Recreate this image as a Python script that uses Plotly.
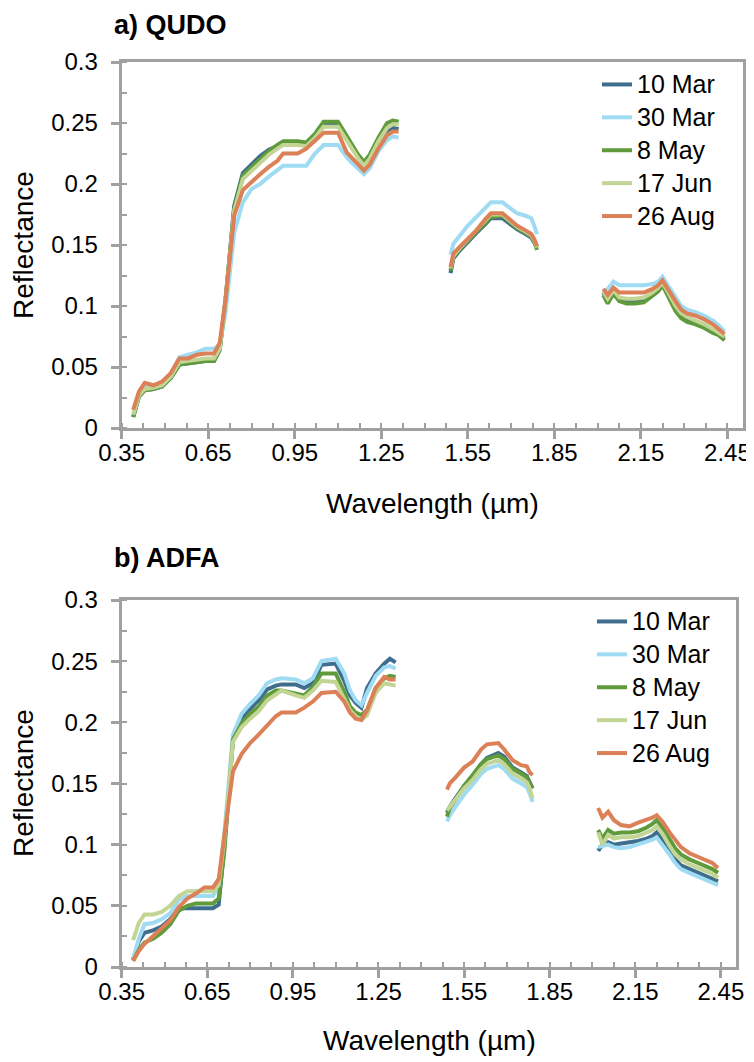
import plotly.graph_objects as go

# ---------------- wavelength grids (µm) ----------------
WL_VNIR = [0.39, 0.41, 0.43, 0.46, 0.49, 0.52, 0.55, 0.58, 0.61, 0.64, 0.67, 0.69, 0.71, 0.74, 0.77,
           0.80, 0.83, 0.86, 0.89, 0.91, 0.96, 0.99, 1.02, 1.05, 1.10, 1.13, 1.15, 1.17, 1.19, 1.21,
           1.24, 1.27, 1.29, 1.31]
WL_SWIR1 = [1.49, 1.50, 1.52, 1.55, 1.58, 1.61, 1.63, 1.67, 1.69, 1.72, 1.75, 1.77, 1.78, 1.79]
WL_SWIR2 = [2.02, 2.035, 2.055, 2.075, 2.10, 2.13, 2.16, 2.19, 2.21, 2.225, 2.245, 2.27, 2.29, 2.31,
            2.34, 2.37, 2.40, 2.42, 2.44]

DATES = ["10 Mar", "30 Mar", "8 May", "17 Jun", "26 Aug"]
COLORS = ["#3F6D8E", "#9FDBF2", "#5F9A3B", "#C3D594", "#DC8058"]

X_TICKS = [0.35, 0.65, 0.95, 1.25, 1.55, 1.85, 2.15, 2.45]
X_TICK_LABELS = ["0.35", "0.65", "0.95", "1.25", "1.55", "1.85", "2.15", "2.45"]
Y_TICKS = [0, 0.05, 0.1, 0.15, 0.2, 0.25, 0.3]
Y_TICK_LABELS = ["0", "0.05", "0.1", "0.15", "0.2", "0.25", "0.3"]

# ---------------- a) QUDO ----------------
QUDO_10MAR_VNIR = [0.009, 0.026, 0.031, 0.032, 0.034, 0.041, 0.052, 0.053, 0.054, 0.055, 0.055, 0.064, 0.105,
                   0.182, 0.209, 0.216, 0.223, 0.228, 0.231, 0.234, 0.234, 0.233, 0.240, 0.249, 0.249, 0.237,
                   0.229, 0.222, 0.216, 0.222, 0.236, 0.244, 0.246, 0.245]
QUDO_30MAR_VNIR = [0.014, 0.028, 0.035, 0.034, 0.037, 0.044, 0.058, 0.060, 0.062, 0.065, 0.065, 0.068, 0.095,
                   0.160, 0.185, 0.196, 0.200, 0.206, 0.211, 0.215, 0.215, 0.215, 0.225, 0.232, 0.232, 0.222,
                   0.217, 0.212, 0.208, 0.213, 0.227, 0.236, 0.239, 0.238]
QUDO_8MAY_VNIR = [0.009, 0.026, 0.031, 0.032, 0.034, 0.041, 0.052, 0.053, 0.054, 0.055, 0.055, 0.064, 0.105,
                  0.180, 0.207, 0.214, 0.221, 0.227, 0.232, 0.235, 0.235, 0.234, 0.241, 0.251, 0.251, 0.239,
                  0.231, 0.224, 0.218, 0.224, 0.238, 0.250, 0.252, 0.251]
QUDO_17JUN_VNIR = [0.011, 0.027, 0.032, 0.033, 0.035, 0.042, 0.054, 0.055, 0.056, 0.057, 0.057, 0.065, 0.105,
                   0.178, 0.204, 0.211, 0.218, 0.224, 0.229, 0.232, 0.232, 0.231, 0.238, 0.247, 0.247, 0.236,
                   0.228, 0.221, 0.215, 0.221, 0.235, 0.246, 0.249, 0.249]
QUDO_26AUG_VNIR = [0.015, 0.030, 0.037, 0.035, 0.038, 0.045, 0.057, 0.057, 0.060, 0.061, 0.061, 0.070, 0.106,
                   0.174, 0.195, 0.202, 0.208, 0.214, 0.219, 0.225, 0.225, 0.229, 0.236, 0.242, 0.242, 0.226,
                   0.221, 0.216, 0.211, 0.216, 0.229, 0.240, 0.243, 0.243]

QUDO_10MAR_SWIR1 = [0.127, 0.139, 0.145, 0.153, 0.160, 0.167, 0.172, 0.172, 0.168, 0.163, 0.159, 0.156, 0.152, 0.148]
QUDO_30MAR_SWIR1 = [0.142, 0.151, 0.157, 0.166, 0.173, 0.180, 0.185, 0.185, 0.181, 0.176, 0.174, 0.172, 0.166, 0.159]
QUDO_8MAY_SWIR1 = [0.129, 0.140, 0.146, 0.154, 0.161, 0.168, 0.173, 0.174, 0.170, 0.164, 0.160, 0.157, 0.153, 0.146]
QUDO_17JUN_SWIR1 = [0.131, 0.141, 0.147, 0.155, 0.162, 0.170, 0.175, 0.175, 0.171, 0.165, 0.161, 0.158, 0.154, 0.148]
QUDO_26AUG_SWIR1 = [0.132, 0.143, 0.148, 0.155, 0.162, 0.171, 0.176, 0.176, 0.172, 0.166, 0.162, 0.159, 0.155, 0.149]

QUDO_10MAR_SWIR2 = [0.111, 0.104, 0.112, 0.106, 0.104, 0.104, 0.105, 0.110, 0.114, 0.119, 0.110, 0.099, 0.093,
                    0.090, 0.087, 0.084, 0.080, 0.077, 0.074]
QUDO_30MAR_SWIR2 = [0.112, 0.114, 0.120, 0.117, 0.117, 0.117, 0.117, 0.118, 0.120, 0.124, 0.117, 0.107, 0.100,
                    0.097, 0.095, 0.092, 0.088, 0.084, 0.079]
QUDO_8MAY_SWIR2 = [0.109, 0.102, 0.110, 0.104, 0.102, 0.102, 0.103, 0.108, 0.112, 0.117, 0.108, 0.096, 0.090,
                   0.087, 0.085, 0.082, 0.078, 0.076, 0.072]
QUDO_17JUN_SWIR2 = [0.112, 0.106, 0.113, 0.107, 0.106, 0.106, 0.107, 0.111, 0.115, 0.119, 0.111, 0.100, 0.094,
                    0.091, 0.088, 0.085, 0.081, 0.078, 0.075]
QUDO_26AUG_SWIR2 = [0.114, 0.109, 0.115, 0.111, 0.111, 0.111, 0.111, 0.114, 0.117, 0.121, 0.113, 0.104, 0.097,
                    0.094, 0.092, 0.089, 0.085, 0.081, 0.077]

# ---------------- b) ADFA ----------------
ADFA_10MAR_VNIR = [0.006, 0.021, 0.028, 0.030, 0.033, 0.039, 0.048, 0.048, 0.048, 0.048, 0.048, 0.051, 0.100,
                   0.186, 0.202, 0.211, 0.218, 0.227, 0.230, 0.231, 0.231, 0.228, 0.232, 0.247, 0.248, 0.234,
                   0.222, 0.216, 0.212, 0.228, 0.240, 0.248, 0.252, 0.249]
ADFA_30MAR_VNIR = [0.007, 0.023, 0.035, 0.036, 0.039, 0.044, 0.055, 0.058, 0.058, 0.058, 0.058, 0.066, 0.110,
                   0.190, 0.207, 0.215, 0.222, 0.232, 0.235, 0.236, 0.235, 0.232, 0.236, 0.250, 0.252, 0.240,
                   0.226, 0.218, 0.214, 0.224, 0.238, 0.245, 0.246, 0.244]
ADFA_8MAY_VNIR = [0.005, 0.014, 0.020, 0.023, 0.028, 0.035, 0.046, 0.050, 0.052, 0.052, 0.052, 0.056, 0.095,
                  0.186, 0.199, 0.207, 0.213, 0.222, 0.226, 0.226, 0.224, 0.222, 0.229, 0.240, 0.240, 0.225,
                  0.213, 0.208, 0.206, 0.210, 0.228, 0.236, 0.238, 0.237]
ADFA_17JUN_VNIR = [0.022, 0.036, 0.043, 0.043, 0.045, 0.050, 0.058, 0.062, 0.062, 0.062, 0.062, 0.067, 0.105,
                   0.184, 0.196, 0.203, 0.209, 0.218, 0.223, 0.226, 0.222, 0.220, 0.226, 0.234, 0.233, 0.219,
                   0.210, 0.205, 0.202, 0.206, 0.224, 0.232, 0.231, 0.230]
ADFA_26AUG_VNIR = [0.005, 0.013, 0.019, 0.025, 0.031, 0.038, 0.049, 0.056, 0.060, 0.065, 0.065, 0.072, 0.108,
                   0.160, 0.174, 0.183, 0.190, 0.197, 0.205, 0.208, 0.208, 0.212, 0.217, 0.224, 0.225, 0.217,
                   0.208, 0.203, 0.202, 0.210, 0.228, 0.237, 0.235, 0.235]

ADFA_10MAR_SWIR1 = [0.126, 0.131, 0.138, 0.148, 0.156, 0.166, 0.171, 0.175, 0.172, 0.163, 0.159, 0.156, 0.151, 0.146]
ADFA_30MAR_SWIR1 = [0.119, 0.124, 0.131, 0.141, 0.149, 0.158, 0.162, 0.165, 0.162, 0.154, 0.150, 0.147, 0.142, 0.135]
ADFA_8MAY_SWIR1 = [0.123, 0.130, 0.137, 0.148, 0.157, 0.166, 0.170, 0.173, 0.170, 0.162, 0.158, 0.155, 0.150, 0.146]
ADFA_17JUN_SWIR1 = [0.128, 0.131, 0.137, 0.146, 0.153, 0.162, 0.166, 0.169, 0.166, 0.158, 0.154, 0.151, 0.146, 0.138]
ADFA_26AUG_SWIR1 = [0.145, 0.150, 0.155, 0.163, 0.168, 0.178, 0.182, 0.183, 0.178, 0.169, 0.165, 0.164, 0.159, 0.157]

ADFA_10MAR_SWIR2 = [0.095, 0.100, 0.102, 0.100, 0.101, 0.102, 0.103, 0.105, 0.107, 0.110, 0.104, 0.095, 0.088,
                    0.083, 0.080, 0.077, 0.074, 0.072, 0.070]
ADFA_30MAR_SWIR2 = [0.098, 0.099, 0.100, 0.098, 0.097, 0.098, 0.100, 0.102, 0.104, 0.106, 0.100, 0.092, 0.085,
                    0.080, 0.077, 0.074, 0.071, 0.069, 0.067]
ADFA_8MAY_SWIR2 = [0.112, 0.105, 0.112, 0.109, 0.110, 0.110, 0.111, 0.114, 0.117, 0.120, 0.114, 0.104, 0.097,
                   0.092, 0.088, 0.085, 0.082, 0.080, 0.077]
ADFA_17JUN_SWIR2 = [0.110, 0.100, 0.108, 0.105, 0.106, 0.106, 0.107, 0.110, 0.112, 0.115, 0.109, 0.099, 0.092,
                    0.088, 0.084, 0.081, 0.078, 0.076, 0.073]
ADFA_26AUG_SWIR2 = [0.130, 0.122, 0.127, 0.120, 0.116, 0.115, 0.118, 0.120, 0.122, 0.124, 0.119, 0.110, 0.104,
                    0.098, 0.093, 0.090, 0.087, 0.085, 0.081]

QUDO = [
    (QUDO_10MAR_VNIR, QUDO_10MAR_SWIR1, QUDO_10MAR_SWIR2),
    (QUDO_30MAR_VNIR, QUDO_30MAR_SWIR1, QUDO_30MAR_SWIR2),
    (QUDO_8MAY_VNIR, QUDO_8MAY_SWIR1, QUDO_8MAY_SWIR2),
    (QUDO_17JUN_VNIR, QUDO_17JUN_SWIR1, QUDO_17JUN_SWIR2),
    (QUDO_26AUG_VNIR, QUDO_26AUG_SWIR1, QUDO_26AUG_SWIR2),
]
ADFA = [
    (ADFA_10MAR_VNIR, ADFA_10MAR_SWIR1, ADFA_10MAR_SWIR2),
    (ADFA_30MAR_VNIR, ADFA_30MAR_SWIR1, ADFA_30MAR_SWIR2),
    (ADFA_8MAY_VNIR, ADFA_8MAY_SWIR1, ADFA_8MAY_SWIR2),
    (ADFA_17JUN_VNIR, ADFA_17JUN_SWIR1, ADFA_17JUN_SWIR2),
    (ADFA_26AUG_VNIR, ADFA_26AUG_SWIR1, ADFA_26AUG_SWIR2),
]

# The page body has an 8px margin; lay the figure out in screen pixels minus that offset.
OFF = 8
W, H = 754 - OFF, 1062 - OFF
FONT = "Liberation Sans, Arial, sans-serif"
AXIS_GREY = "#A0A0A0"


def joined(segs):
    out = []
    for i, s in enumerate(segs):
        if i:
            out.append(None)
        out.extend(s)
    return out


X_ALL = joined([WL_VNIR, WL_SWIR1, WL_SWIR2])

fig = go.Figure()
for data, xa, ya, leg in [(QUDO, "x", "y", "legend"), (ADFA, "x2", "y2", "legend2")]:
    for name, color, segs in zip(DATES, COLORS, data):
        fig.add_trace(go.Scatter(
            x=X_ALL, y=joined(segs), mode="lines",
            name='<span style="font-size:25px">' + name + "</span>",
            line=dict(color=color, width=4), xaxis=xa, yaxis=ya, legend=leg,
            connectgaps=False, hoverinfo="skip"))


def px_x(p):
    return (p - OFF) / W


def px_y(p):
    return 1 - (p - OFF) / H


def xaxis_cfg(x0, x1, anchor):
    return dict(
        domain=[px_x(x0), px_x(x1)], anchor=anchor, range=[0.35, 2.503],
        tickmode="array", tickvals=X_TICKS, ticktext=X_TICK_LABELS,
        ticks="outside", ticklen=8, tickwidth=2.5, tickcolor=AXIS_GREY,
        showline=True, linecolor=AXIS_GREY, linewidth=3, mirror=True,
        showgrid=False, zeroline=False, automargin=False,
        tickfont=dict(family=FONT, size=24, color="black"),
        ticklabelstandoff=-7, ticklabeloverflow="allow",
        minor=dict(tickmode="linear", tick0=0.35, dtick=0.075, ticks="inside", ticklen=5,
                   tickwidth=2, tickcolor=AXIS_GREY, showgrid=False),
    )


def yaxis_cfg(y_top, y_bot, anchor):
    return dict(
        domain=[px_y(y_bot), px_y(y_top)], anchor=anchor, range=[0, 0.3],
        tickmode="array", tickvals=Y_TICKS, ticktext=Y_TICK_LABELS,
        ticks="outside", ticklen=8, tickwidth=2.5, tickcolor=AXIS_GREY,
        showline=True, linecolor=AXIS_GREY, linewidth=3, mirror=True,
        showgrid=False, zeroline=False, automargin=False,
        tickfont=dict(family=FONT, size=24, color="black"),
        ticklabelstandoff=8, ticklabeloverflow="allow",
        minor=dict(tickmode="linear", tick0=0, dtick=0.025, ticks="inside", ticklen=5,
                   tickwidth=2, tickcolor=AXIS_GREY, showgrid=False),
    )


legend_common = dict(
    xanchor="left", yanchor="top", bgcolor="rgba(0,0,0,0)", borderwidth=0,
    font=dict(family=FONT, size=23, color="black"), tracegroupgap=0, itemwidth=30,
)


def note(text, x, y, size, bold=False, angle=0):
    return dict(text=("<b>%s</b>" % text) if bold else text, x=px_x(x), y=px_y(y),
                xref="paper", yref="paper", xanchor="left" if bold else "center",
                yanchor="middle", showarrow=False, textangle=angle,
                font=dict(family=FONT, size=size, color="black"))


fig.update_layout(
    width=W, height=H, margin=dict(l=0, r=0, t=0, b=0),
    paper_bgcolor="white", plot_bgcolor="white",
    font=dict(family=FONT, color="black"),
    xaxis=xaxis_cfg(121.7, 742.7, "y"), yaxis=yaxis_cfg(62, 428, "x"),
    xaxis2=xaxis_cfg(121.7, 736, "y2"), yaxis2=yaxis_cfg(600, 967, "x2"),
    legend=dict(x=px_x(597), y=px_y(63), **legend_common),
    legend2=dict(x=px_x(592), y=px_y(600), **legend_common),
    showlegend=True,
    annotations=[
        note("a) QUDO", 112, 25, 27, bold=True),
        note("b) ADFA", 112, 558, 27, bold=True),
        note("Wavelength (µm)", 432, 503, 28),
        note("Wavelength (µm)", 429, 1040, 28),
        note("Reflectance", 23, 245, 28, angle=-90),
        note("Reflectance", 23, 783, 28, angle=-90),
    ],
)

fig.write_html("out.html")
